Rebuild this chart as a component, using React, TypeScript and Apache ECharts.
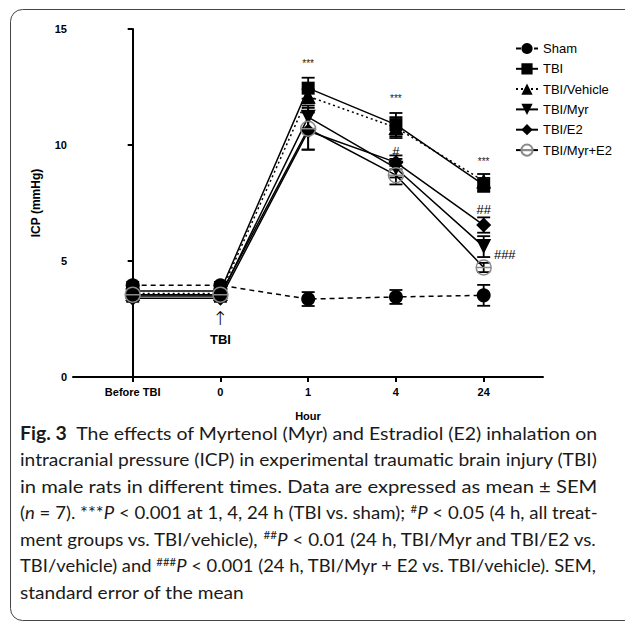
import React, { useEffect, useRef } from "react";
import * as echarts from "echarts";

const categories = ["Before TBI", "0", "1", "4", "24"];
const seriesNames = ["Sham", "TBI", "TBI/Vehicle", "TBI/Myr", "TBI/E2", "TBI/Myr+E2"];
const shamMean = [3.95, 3.95, 3.36, 3.45, 3.52];
const shamErr = [0.15, 0.15, 0.3, 0.3, 0.45];
const tbiMean = [3.71, 3.71, 12.45, 10.88, 8.28];
const tbiErr = [0.15, 0.15, 0.45, 0.5, 0.3];
const vehicleMean = [3.6, 3.6, 12.1, 10.75, 8.45];
const vehicleErr = [0.15, 0.15, 0.3, 0.45, 0.3];
const myrMean = [3.49, 3.49, 11.2, 9.0, 5.62];
const myrErr = [0.15, 0.15, 0.5, 0.4, 0.45];
const e2Mean = [3.39, 3.39, 10.6, 9.25, 6.55];
const e2Err = [0.15, 0.15, 0.8, 0.3, 0.33];
const myrE2Mean = [3.55, 3.55, 10.7, 8.7, 4.72];
const myrE2Err = [0.15, 0.15, 0.9, 0.4, 0.2];

const annX = [2, 3, 4, 3, 4, 4.24, 1, 1];
const annY = [13.5, 12.0, 9.27, 9.72, 7.2, 5.28, 2.55, 1.6];
const annText = ["***", "***", "***", "#", "##", "###", "↑", "TBI"];

const captionLines = [
  "{b|Fig. 3}  The effects of Myrtenol (Myr) and Estradiol (E2) inhalation on",
  "intracranial pressure (ICP) in experimental traumatic brain injury (TBI)",
  "in male rats in different times. Data are expressed as mean ± SEM",
  "({i|n} = 7). ***{i|P} < 0.001 at 1, 4, 24 h (TBI vs. sham); {s|#}{i|P} < 0.05 (4 h, all treat-",
  "ment groups vs. TBI/vehicle), {s|##}{i|P} < 0.01 (24 h, TBI/Myr and TBI/E2 vs.",
  "TBI/vehicle) and {s|###}{i|P} < 0.001 (24 h, TBI/Myr + E2 vs. TBI/vehicle). SEM,",
  "standard error of the mean",
];

const AX = "Liberation Sans";
const CAP = "Lato";

export default function App() {
  const ref = useRef<HTMLDivElement>(null);
  useEffect(() => {
    if (!ref.current) return;
    const chart = echarts.init(ref.current, null, { renderer: "svg" });

    const means = [shamMean, tbiMean, vehicleMean, myrMean, e2Mean, myrE2Mean];
    const errs = [shamErr, tbiErr, vehicleErr, myrErr, e2Err, myrE2Err];
    const symbols = [
      "circle",
      "rect",
      "triangle",
      "triangle",
      "diamond",
      "path://M0,10 A10,10 0 1,1 20,10 A10,10 0 1,1 0,10 Z M0,10 L20,10",
    ];
    const sizes = [14, 13, 15, 15, 15, 15];
    const rotates = [0, 0, 0, 180, 0, 0];
    const lineTypes: any[] = [[5, 4], "solid", [2, 3], "solid", "solid", "solid"];

    const lineSeries = seriesNames.map((name, i) => ({
      name,
      type: "line",
      z: 4,
      data: means[i].map((v, j) => [j, v]),
      symbol: symbols[i],
      symbolSize: sizes[i],
      symbolRotate: rotates[i],
      showSymbol: true,
      lineStyle: { color: "#000", width: 1.5, type: lineTypes[i] },
      itemStyle:
        i === 5
          ? { color: "rgba(255,255,255,0)", borderColor: "#8a8a8a", borderWidth: 1.5 }
          : { color: "#000", borderWidth: 0 },
      emphasis: { disabled: true },
    }));

    const errSeries = seriesNames.map((name, i) => ({
      type: "custom",
      name: name + " SEM",
      z: 3,
      itemStyle: { color: "#000" },
      data: means[i].map((v, j) => [j, v, errs[i][j]]),
      encode: { x: 0, y: 1 },
      renderItem: (params: any, api: any) => {
        const x = api.value(0);
        const y = api.value(1);
        const e = api.value(2);
        const hi = api.coord([x, y + e]);
        const lo = api.coord([x, y - e]);
        const cap = 6.5;
        const st = { stroke: "#000", lineWidth: 1.8 };
        return {
          type: "group",
          children: [
            { type: "line", shape: { x1: hi[0], y1: hi[1], x2: lo[0], y2: lo[1] }, style: st },
            { type: "line", shape: { x1: hi[0] - cap, y1: hi[1], x2: hi[0] + cap, y2: hi[1] }, style: st },
            { type: "line", shape: { x1: lo[0] - cap, y1: lo[1], x2: lo[0] + cap, y2: lo[1] }, style: st },
          ],
        };
      },
    }));

    const annSeries = {
      type: "custom",
      z: 6,
      silent: true,
      itemStyle: { color: "#000" },
      data: annX.map((x, i) => [x, annY[i], i]),
      encode: { x: 0, y: 1 },
      renderItem: (params: any, api: any) => {
        const idx = api.value(2);
        const t = annText[idx];
        const p = api.coord([api.value(0), api.value(1)]);
        let fontSize = 10;
        let fontWeight: any = "normal";
        let fontFamily = AX;
        let fill = "#222";
        if (t.startsWith("#")) { fontSize = 13; fill = "#000"; }
        if (t === "↑") { fontSize = 19; fontFamily = "DejaVu Sans"; fill = "#000"; fontWeight = "lighter"; }
        if (t === "TBI") { fontSize = 13; fontWeight = "bold"; fill = "#000"; }
        return {
          type: "text",
          x: p[0],
          y: p[1],
          style: { text: t, fontSize, fontWeight, fontFamily, fill, textFill: fill, align: "center", verticalAlign: "middle" },
        };
      },
    };

    const canvas = document.createElement("canvas");
    const ctx = canvas.getContext("2d")!;
    const capSize = 18;
    const measure = (s: string) => {
      let w = 0;
      const parts = s.split(/(\{[a-z]\|[^}]*\})/);
      for (const p of parts) {
        const m = p.match(/^\{([a-z])\|([^}]*)\}$/);
        if (m) {
          if (m[1] === "b") ctx.font = `bold ${capSize}px "${CAP}"`;
          else if (m[1] === "i") ctx.font = `italic ${capSize}px "${CAP}"`;
          else ctx.font = `${capSize * 0.62}px "${CAP}"`;
          w += ctx.measureText(m[2]).width;
        } else {
          ctx.font = `${capSize}px "${CAP}"`;
          w += ctx.measureText(p).width;
        }
      }
      return w;
    };
    const targetW = 578;
    const scales = captionLines.map((l) => targetW / measure(l));
    const avgScale = scales.slice(0, 6).reduce((a, b) => a + b, 0) / 6;

    const capElems = captionLines.map((l, i) => ({
      type: "text",
      x: 20,
      y: 433 + i * 26.5,
      scaleX: i === 6 ? avgScale : scales[i],
      style: {
        text: l,
        fontFamily: CAP,
        fontSize: capSize,
        fill: "#1a1a1a",
        verticalAlign: "middle",
        align: "left",
        rich: {
          b: { fontWeight: "bold", fontSize: capSize, fontFamily: CAP, fill: "#1a1a1a" },
          i: { fontStyle: "italic", fontSize: capSize, fontFamily: CAP, fill: "#1a1a1a" },
          s: { fontSize: capSize * 0.62, fontFamily: CAP, fill: "#1a1a1a", verticalAlign: "top", padding: [0, 0, 8, 0] },
        },
      },
    }));

    chart.setOption({
      animation: false,
      backgroundColor: "#fff",
      grid: { left: 73, right: 82, top: 29, bottom: 245, containLabel: false },
      legend: {
        data: seriesNames,
        orient: "vertical",
        left: 510,
        top: 37,
        itemWidth: 22,
        itemHeight: 14,
        itemGap: 7.3,
        textStyle: { fontFamily: AX, fontSize: 13, color: "#000" },
        selectedMode: false,
      },
      xAxis: {
        type: "value",
        min: -0.68,
        max: 4.676,
        name: "Hour",
        nameLocation: "middle",
        nameGap: 33,
        nameTextStyle: { fontFamily: AX, fontWeight: "bold", fontSize: 11, color: "#000" },
        axisLine: { show: true, onZero: false, lineStyle: { color: "#000", width: 2 } },
        axisTick: { show: true, customValues: [0, 1, 2, 3, 4], length: 5, lineStyle: { color: "#000", width: 2 } },
        axisLabel: {
          customValues: [0, 1, 2, 3, 4],
          formatter: (v: number) => categories[Math.round(v)] ?? "",
          fontFamily: AX,
          fontWeight: "bold",
          fontSize: 11,
          color: "#000",
          margin: 9,
        },
        splitLine: { show: false },
      },
      yAxis: {
        type: "value",
        min: 0,
        max: 15,
        interval: 5,
        name: "ICP (mmHg)",
        nameLocation: "middle",
        nameGap: 31,
        nameTextStyle: { fontFamily: AX, fontWeight: "bold", fontSize: 12, color: "#000" },
        axisLine: { show: true, lineStyle: { color: "#000", width: 2 } },
        axisTick: { show: true, length: 5, lineStyle: { color: "#000", width: 2 } },
        axisLabel: { fontFamily: AX, fontWeight: "bold", fontSize: 11, color: "#000", margin: 6 },
        splitLine: { show: false },
      },
      graphic: [
        {
          type: "rect",
          shape: { x: 10.5, y: 9.5, width: 700, height: 611, r: 12 },
          style: { fill: "none", stroke: "#444", lineWidth: 1 },
          silent: true,
        },
        ...capElems,
      ],
      series: [...errSeries, ...lineSeries, annSeries],
    } as any);

    return () => chart.dispose();
  }, []);
  return (
    <div
      ref={ref}
      style={{ position: "absolute", left: 0, top: 0, width: 625, height: 622 }}
    />
  );
}
